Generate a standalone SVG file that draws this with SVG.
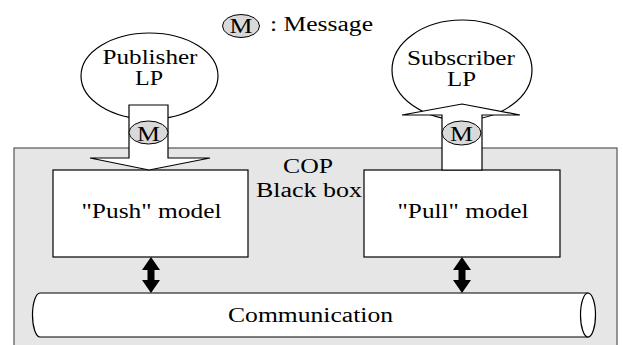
<svg xmlns="http://www.w3.org/2000/svg" width="623" height="345" viewBox="0 0 623 345" font-family="'Liberation Serif', 'Times New Roman', serif" font-size="20">
<style>
text{font-family:'Liberation Serif','Times New Roman',serif;font-size:20px;fill:#000}
.ln{fill:#fff;stroke:#000;stroke-width:1.2}
.msg{fill:#d9d9d9;stroke:#000;stroke-width:1}
.bi{fill:#000;stroke:none}
</style>
<rect width="623" height="345" fill="#fff"/>
<g id="legend">
<ellipse class="msg" cx="241" cy="26" rx="18.5" ry="11.5"/>
<text x="241" y="33" text-anchor="middle" textLength="23" lengthAdjust="spacingAndGlyphs">M</text>
<text x="270" y="31" textLength="103" lengthAdjust="spacingAndGlyphs">: Message</text>
</g>
<g id="cop">
<rect x="14" y="148" width="603" height="210" fill="#e6e6e6" stroke="#555" stroke-width="1.2"/>
<text x="308" y="173" text-anchor="middle" textLength="50" lengthAdjust="spacingAndGlyphs">COP</text>
<text x="309" y="197" text-anchor="middle" textLength="106" lengthAdjust="spacingAndGlyphs">Black box</text>
</g>
<g id="publisher">
<ellipse class="ln" cx="149.5" cy="76" rx="68.5" ry="43"/>
<text x="150" y="64" text-anchor="middle" textLength="95" lengthAdjust="spacingAndGlyphs">Publisher</text>
<text x="149" y="85" text-anchor="middle" textLength="28" lengthAdjust="spacingAndGlyphs">LP</text>
</g>
<g id="subscriber">
<ellipse class="ln" cx="462" cy="70" rx="70" ry="50"/>
<text x="461" y="65" text-anchor="middle" textLength="108" lengthAdjust="spacingAndGlyphs">Subscriber</text>
<text x="461.5" y="86" text-anchor="middle" textLength="29" lengthAdjust="spacingAndGlyphs">LP</text>
</g>
<g id="push">
<rect class="ln" x="53" y="170" width="195" height="87"/>
<text x="151.5" y="218" text-anchor="middle" textLength="140" lengthAdjust="spacingAndGlyphs">"Push" model</text>
</g>
<g id="pull">
<rect class="ln" x="364" y="170" width="196" height="87"/>
<text x="463" y="218" text-anchor="middle" textLength="131" lengthAdjust="spacingAndGlyphs">"Pull" model</text>
</g>
<g id="communication">
<path class="ln" d="M40,293 L588,293 L588,337 L40,337 A7.5,22 0 0 1 40,293 Z"/>
<ellipse class="ln" cx="588" cy="315" rx="7.5" ry="22"/>
<text x="310.5" y="322" text-anchor="middle" textLength="165" lengthAdjust="spacingAndGlyphs">Communication</text>
</g>
<g id="connectors">
<path class="ln" d="M129,105 L168,105 L168,158 L210,158 L149,170 L90,158 L129,158 Z"/>
<ellipse class="msg" cx="148.5" cy="132.5" rx="19.5" ry="11.5"/>
<text x="148.5" y="141" text-anchor="middle" textLength="23" lengthAdjust="spacingAndGlyphs">M</text>
<path class="ln" d="M442,170 L442,115 L402,115 L462,104 L520,115 L482,115 L482,170 Z"/>
<ellipse class="msg" cx="461.5" cy="133" rx="19.5" ry="12"/>
<text x="461.5" y="141" text-anchor="middle" textLength="23" lengthAdjust="spacingAndGlyphs">M</text>
<path class="bi" d="M151,257 L160,270 L154.5,270 L154.5,280 L160,280 L151,293 L142,280 L147.5,280 L147.5,270 L142,270 Z"/>
<path class="bi" d="M462,257 L471,270 L465.5,270 L465.5,280 L471,280 L462,293 L453,280 L458.5,280 L458.5,270 L453,270 Z"/>
</g>
</svg>
